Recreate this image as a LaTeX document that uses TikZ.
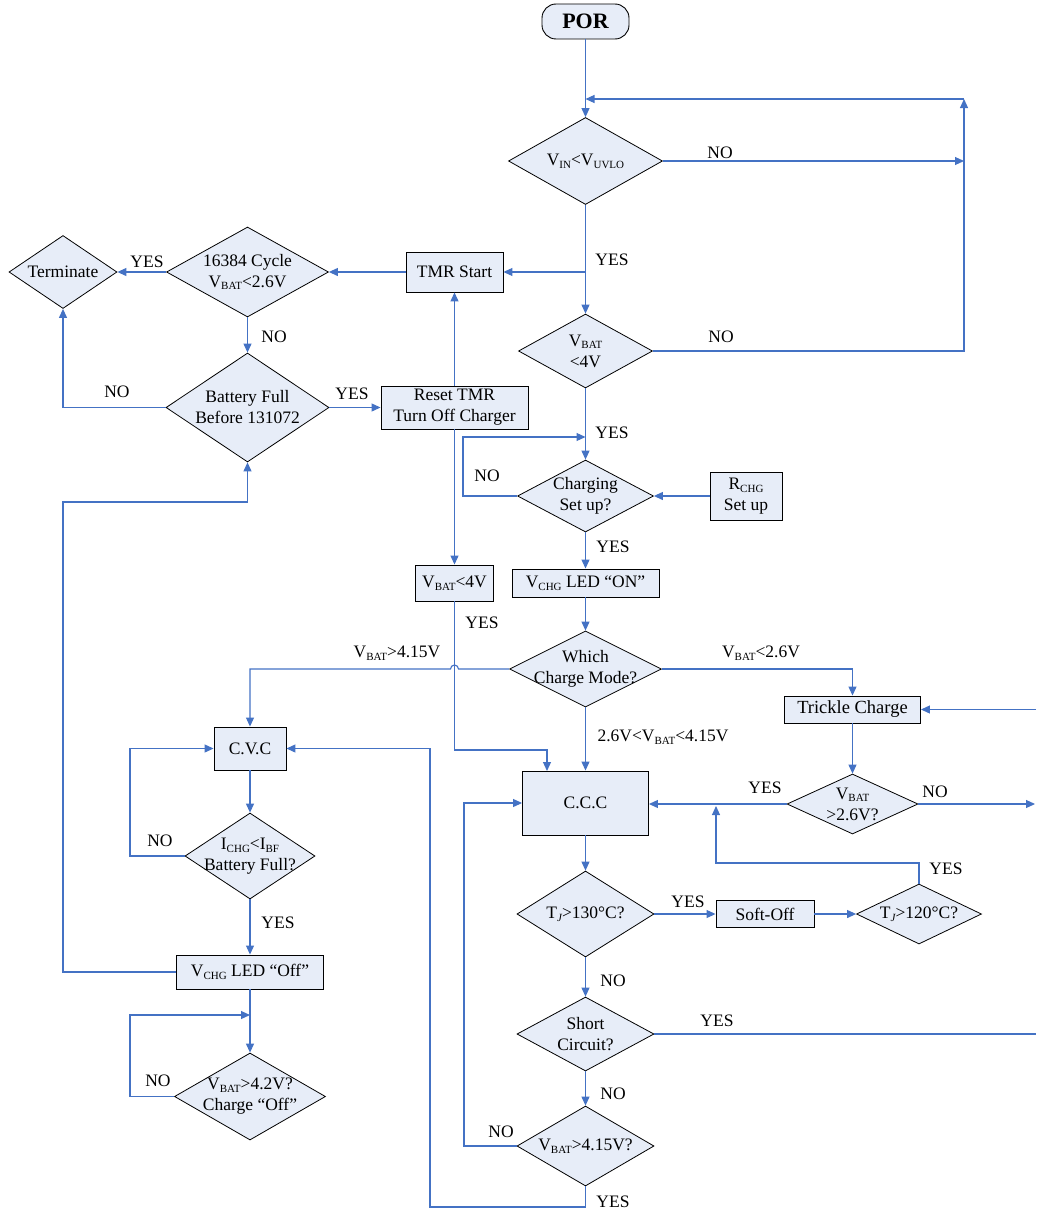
\documentclass[tikz,border=0pt]{standalone}
\usepackage{fontspec}
\setmainfont{Liberation Serif}
\usetikzlibrary{shapes.geometric,arrows.meta}
\definecolor{flowblue}{RGB}{68,114,196}
\definecolor{boxfill}{RGB}{231,237,248}
\newcommand\lsub[1]{\raisebox{-0.35ex}{\fontsize{11}{11}\selectfont #1}}
\begin{document}
\begin{tikzpicture}[x=1pt,y=-1pt,
  box/.style={draw=black, line width=0.9pt, fill=boxfill, inner sep=0pt, align=center, font=\fontsize{17.5}{21}\selectfont},
  dia/.style={diamond, draw=black, line width=0.8pt, fill=boxfill, inner sep=0pt},
  lbl/.style={font=\fontsize{17.5}{21}\selectfont, inner sep=0pt, align=center},
  flow/.style={draw=flowblue, line width=1.1pt},
  arr/.style={flow, -{Triangle[length=9pt,width=8pt]}}]
\useasboundingbox (0,0) rectangle (1036,1215);

% ---------- main column ----------
\node[box, rounded corners=14pt, minimum width=87pt, minimum height=35pt, font=\bfseries\fontsize{22}{24}\selectfont] (por) at (585.5,21.5) {POR};
\node[dia, minimum width=154pt, minimum height=87pt] (d1) at (585.5,161) {};
\node[lbl] (d1t) at (d1) {V\lsub{IN}<V\lsub{UVLO}};
\node[dia, minimum width=134pt, minimum height=74pt] (d2) at (585.5,351) {};
\node[lbl] (d2t) at (d2) {V\lsub{BAT}\\<4V};
\node[dia, minimum width=136pt, minimum height=72pt] (d3) at (585.5,496) {};
\node[lbl] (d3t) at (d3) {Charging\\Set up?};
\node[box, minimum width=72pt, minimum height=48pt] (rchg) at (746,496) {R\lsub{CHG}\\Set up};
\node[box, minimum width=147pt, minimum height=28pt] (ledon) at (585.5,583) {V\lsub{CHG} LED “ON”};
\node[dia, minimum width=152pt, minimum height=76pt] (d4) at (585.5,669) {};
\node[lbl] (d4t) at (d4) {Which\\Charge Mode?};
\node[box, minimum width=136pt, minimum height=27pt, font=\fontsize{18.5}{21}\selectfont] (trickle) at (852.5,709.5) {Trickle Charge};
\node[dia, minimum width=131pt, minimum height=60pt] (d5) at (852.5,804) {};
\node[lbl] (d5t) at (d5) {V\lsub{BAT}\\>2.6V?};
\node[box, minimum width=126pt, minimum height=64pt] (ccc) at (585.5,803) {C.C.C};
\node[dia, minimum width=137pt, minimum height=86pt] (d6) at (585.5,914) {};
\node[lbl] (d6t) at (d6) {T\lsub{\itshape J}>130°C?};
\node[box, minimum width=98pt, minimum height=27pt] (soft) at (765,914) {Soft-Off};
\node[dia, minimum width=125pt, minimum height=60pt] (d7) at (919,914) {};
\node[lbl] (d7t) at (d7) {T\lsub{\itshape J}>120°C?};
\node[dia, minimum width=137pt, minimum height=74pt] (d8) at (585.5,1034) {};
\node[lbl] (d8t) at (d8) {Short\\Circuit?};
\node[dia, minimum width=137pt, minimum height=80pt] (d9) at (585.5,1146) {};
\node[lbl] (d9t) at (d9) {V\lsub{BAT}>4.15V?};

% ---------- middle / left ----------
\node[box, minimum width=97pt, minimum height=40pt] (tmr) at (454.5,272) {TMR Start};
\node[box, minimum width=147pt, minimum height=43pt] (reset) at (454.5,407.5) {Reset TMR\\Turn Off Charger};
\node[box, minimum width=78pt, minimum height=36pt] (vb4) at (454.5,583) {V\lsub{BAT}<4V};
\node[dia, minimum width=162pt, minimum height=90pt] (c16) at (247.5,272) {};
\node[lbl] (c16t) at (c16) {16384 Cycle\\V\lsub{BAT}<2.6V};
\node[dia, minimum width=108pt, minimum height=73pt] (term) at (63,272) {};
\node[lbl] (termt) at (term) {Terminate};
\node[dia, minimum width=163pt, minimum height=109pt] (bf) at (247.5,407.5) {};
\node[lbl] (bft) at (bf) {Battery Full\\Before 131072};
\node[box, minimum width=72pt, minimum height=43pt] (cvc) at (250,748.5) {C.V.C};
\node[dia, minimum width=130pt, minimum height=86pt] (di) at (250,856) {};
\node[lbl] (dit) at (di) {I\lsub{CHG}<I\lsub{BF}\\Battery Full?};
\node[box, minimum width=147pt, minimum height=34pt] (ledoff) at (250,972) {V\lsub{CHG} LED “Off”};
\node[dia, minimum width=151pt, minimum height=87pt] (d42) at (250,1096.5) {};
\node[lbl] (d42t) at (d42) {V\lsub{BAT}>4.2V?\\Charge “Off”};

% ---------- coordinates ----------
\coordinate (rtop) at (964,99);
\coordinate (jtop) at (585.5,99);
\coordinate (rmid) at (964,161);
\coordinate (tj) at (585.5,272);
\coordinate (nj) at (585.5,437);
\coordinate (trin) at (1036,709.5);
\coordinate (d5out) at (1035,804);
\coordinate (d8out) at (1036,1034);
\coordinate (softup) at (716,806);
\coordinate (ccctop) at (547,771);

% ---------- connectors ----------
\draw[arr] (por) -- (d1);
\draw[arr] (d1.east) -- (rmid);
\draw[arr] (d2.east) -| (rtop);
\draw[arr] (rtop) -- (jtop);
\draw[arr] (d1) -- (d2);
\draw[arr] (tj) -- (tmr.east);
\draw[arr] (tmr.west) -- (c16.east);
\draw[arr] (c16.west) -- (term.east);
\draw[arr] (c16) -- (bf);
\draw[arr] (bf.west) -| (term.south);
\draw[arr] (bf.east) -- (reset.west);
\draw[arr] (reset) -- (tmr);
\draw[arr] (reset) -- (vb4);
\draw[arr] (vb4.south) |- (547,750) -- (ccctop);
\draw[arr] (d2) -- (d3);
\draw[arr] (d3.west) -- (463,496) -- (463,437) -- (nj);
\draw[arr] (rchg.west) -- (d3.east);
\draw[arr] (d3) -- (ledon);
\draw[arr] (ledon) -- (d4);
\draw[arr] (d4.west) -- (458.5,669) arc[start angle=0,end angle=180,radius=4pt] -- (250,669) -- (cvc.north);
\draw[arr] (d4.east) -| (trickle.north);
\draw[arr] (d4) -- (ccc);
\draw[arr] (trickle) -- (d5);
\draw[arr] (trin) -- (trickle.east);
\draw[arr] (d5.east) -- (d5out);
\draw[arr] (d5.west) -- (d5.west -| ccc.east);
\draw[arr] (ccc) -- (d6);
\draw[arr] (d6.east) -- (soft.west);
\draw[arr] (soft.east) -- (d7.west);
\draw[arr] (d7.north) |- (716,863) -- (softup);
\draw[arr] (d6) -- (d8);
\draw[flow] (d8.east) -- (d8out);
\draw[arr] (d8) -- (d9);
\draw[arr] (d9.west) -| (464,803) -- (ccc.west);
\draw[arr] (d9.south) |- (430,1207) |- (cvc.east);
\draw[arr] (cvc) -- (di);
\draw[arr] (di.west) -| (130,748.5) -- (cvc.west);
\draw[arr] (di) -- (ledoff);
\draw[arr] (ledoff.west) -| (63,502) -| (bf.south);
\draw[arr] (ledoff) -- (d42);
\draw[arr] (d42.west) -| (130,1015) -- (250,1015);

% ---------- labels ----------
\node[lbl] (l1) at (720,153) {NO};
\node[lbl] (l2) at (612,260) {YES};
\node[lbl] (l3) at (721,337) {NO};
\node[lbl] (l4) at (612,433) {YES};
\node[lbl] (l5) at (487,476) {NO};
\node[lbl] (l6) at (613,547) {YES};
\node[lbl] (l7) at (482,623) {YES};
\node[lbl] (l8) at (397,653) {V\lsub{BAT}>4.15V};
\node[lbl] (l9) at (761,653) {V\lsub{BAT}<2.6V};
\node[lbl] (l10) at (663,737) {2.6V<V\lsub{BAT}<4.15V};
\node[lbl] (l11) at (765,788) {YES};
\node[lbl] (l12) at (935,792) {NO};
\node[lbl] (l13) at (946,869) {YES};
\node[lbl] (l14) at (688,902) {YES};
\node[lbl] (l15) at (613,981) {NO};
\node[lbl] (l16) at (717,1021) {YES};
\node[lbl] (l17) at (613,1094) {NO};
\node[lbl] (l18) at (501,1132) {NO};
\node[lbl] (l19) at (613,1202) {YES};
\node[lbl] (l20) at (147,262) {YES};
\node[lbl] (l21) at (274,337) {NO};
\node[lbl] (l22) at (117,392) {NO};
\node[lbl] (l23) at (352,394) {YES};
\node[lbl] (l24) at (160,841) {NO};
\node[lbl] (l25) at (278,923) {YES};
\node[lbl] (l26) at (158,1081) {NO};
\end{tikzpicture}
\end{document}
